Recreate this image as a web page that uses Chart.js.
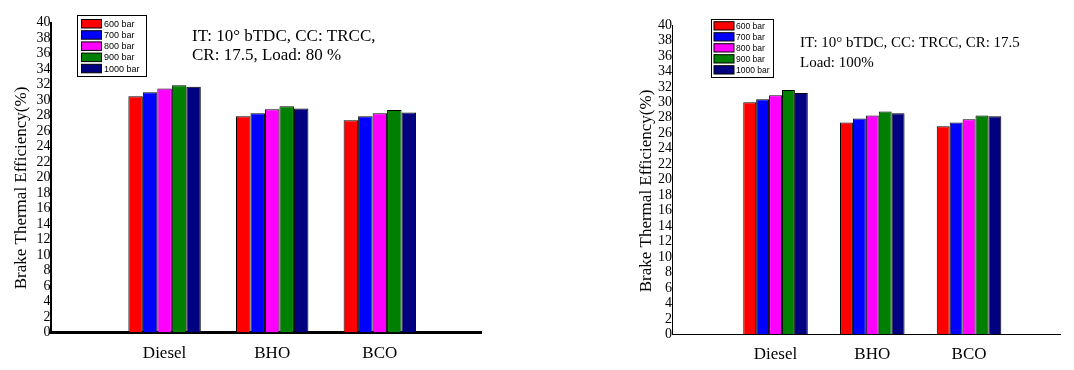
<!DOCTYPE html>
<html>
<head>
<meta charset="utf-8">
<script src="https://cdn.jsdelivr.net/npm/chart.js@4/dist/chart.umd.min.js"></script>
<style>
  html, body { margin: 0; padding: 0; background: #fff; }
  body { position: relative; width: 1074px; height: 370px; overflow: hidden; }
  canvas { position: absolute; top: 0; }
  #chart80 { left: 0; }
  #chart100 { left: 600px; }
</style>
</head>
<body>
<canvas id="chart80" width="560" height="370"></canvas>
<canvas id="chart100" width="474" height="370"></canvas>
<script>
// Categories and series
const fuels = ['Diesel', 'BHO', 'BCO'];
const pressures = ['600 bar', '700 bar', '800 bar', '900 bar', '1000 bar'];
const yTicks = [0, 2, 4, 6, 8, 10, 12, 14, 16, 18, 20, 22, 24, 26, 28, 30, 32, 34, 36, 38, 40];

// Load 80 %
const bte80_600 = [30.5, 27.9, 27.4];
const bte80_700 = [31.0, 28.3, 27.9];
const bte80_800 = [31.5, 28.8, 28.3];
const bte80_900 = [31.9, 29.2, 28.7];
const bte80_1000 = [31.7, 28.9, 28.4];

// Load 100 %
const bte100_600 = [30.0, 27.4, 26.9];
const bte100_700 = [30.4, 27.9, 27.4];
const bte100_800 = [30.9, 28.3, 27.8];
const bte100_900 = [31.6, 28.8, 28.3];
const bte100_1000 = [31.2, 28.6, 28.2];

const yTitle = 'Brake Thermal Efficiency(%)';
const note80 = ['IT: 10\u00B0 bTDC, CC: TRCC,', 'CR: 17.5, Load: 80 %'];
const note100 = ['IT: 10\u00B0 bTDC, CC: TRCC, CR: 17.5', 'Load: 100%'];

const barColors = ['#ff0000', '#0000ff', '#ff00ff', '#008000', '#000080'];
const serif = '"Liberation Serif", "Times New Roman", serif';

// legend drawn as a framed box inside the plot, like the original figure
const boxLegend = {
    id: 'boxLegend',
    afterDraw(chart, args, o) {
        const ctx = chart.ctx;
        ctx.save();
        ctx.lineWidth = 1;
        ctx.strokeStyle = '#000';
        ctx.fillStyle = '#fff';
        ctx.fillRect(o.x, o.y, o.w, o.h);
        ctx.strokeRect(o.x, o.y, o.w, o.h);
        ctx.font = o.font;
        ctx.textBaseline = 'middle';
        chart.data.datasets.forEach((ds, i) => {
            const top = o.y + o.first + i * o.row;
            ctx.fillStyle = ds.backgroundColor;
            ctx.fillRect(o.x + o.sx, top, o.sw, o.sh);
            ctx.strokeRect(o.x + o.sx, top, o.sw, o.sh);
            ctx.fillStyle = '#000';
            ctx.fillText(ds.label, o.x + o.tx, top + o.sh / 2 + 0.5);
        });
        ctx.restore();
    }
};

// condition text and the rotated y title
const noteText = {
    id: 'noteText',
    afterDraw(chart, args, o) {
        const ctx = chart.ctx;
        ctx.save();
        ctx.font = o.font;
        ctx.fillStyle = '#000';
        ctx.textBaseline = 'alphabetic';
        o.lines.forEach((line, i) => ctx.fillText(line, o.x, o.y + i * o.gap));
        ctx.translate(o.titleX, o.titleY);
        ctx.rotate(-Math.PI / 2);
        ctx.font = '17px ' + serif;
        ctx.textAlign = 'center';
        ctx.textBaseline = 'middle';
        ctx.fillText(yTitle, 0, 0);
        ctx.restore();
    }
};

function makeChart(id, series, cfg) {
    const ctx = document.getElementById(id).getContext('2d');
    return new Chart(ctx, {
        type: 'bar',
        data: {
            datasets: series.map((vals, i) => ({
                label: pressures[i],
                data: vals.map((v, j) => ({ x: j + 1, y: v })),
                backgroundColor: barColors[i],
                borderColor: '#000',
                borderWidth: 1,
                categoryPercentage: cfg.groupWidth,
                barPercentage: 1.0
            }))
        },
        options: {
            responsive: false,
            animation: false,
            layout: { padding: { left: 0, right: cfg.padRight, top: cfg.padTop, bottom: 0 } },
            scales: {
                x: {
                    type: 'linear',
                    offset: false,
                    min: cfg.xMin,
                    max: cfg.xMax,
                    afterBuildTicks: (scale) => { scale.ticks = fuels.map((f, i) => ({ value: i + 1 })); },
                    afterFit: (scale) => { scale.height = cfg.xHeight; },
                    grid: { display: false, drawTicks: false, offset: false },
                    border: { display: true, color: '#000', width: cfg.xBorder },
                    ticks: {
                        autoSkip: false,
                        maxRotation: 0,
                        padding: cfg.xPad,
                        color: '#000',
                        font: { family: serif, size: 17 },
                        callback: (v) => fuels[v - 1] || ''
                    }
                },
                y: {
                    min: 0,
                    max: 40,
                    afterBuildTicks: (scale) => { scale.ticks = yTicks.map(v => ({ value: v })); },
                    afterFit: (scale) => { scale.width = cfg.yWidth; },
                    grid: { display: false, drawTicks: false },
                    border: { display: true, color: '#000', width: cfg.yBorder },
                    ticks: {
                        autoSkip: false,
                        padding: 0,
                        color: '#000',
                        font: { family: serif, size: 14 }
                    }
                }
            },
            plugins: {
                legend: { display: false },
                tooltip: { enabled: false },
                boxLegend: cfg.legend,
                noteText: cfg.note
            }
        },
        plugins: [boxLegend, noteText]
    });
}

makeChart('chart80', [bte80_600, bte80_700, bte80_800, bte80_900, bte80_1000], {
    groupWidth: 0.673, xMin: -0.06, xMax: 3.94,
    padRight: 79, padTop: 22.5, xHeight: 37.5, yWidth: 50.5,
    xBorder: 3, yBorder: 2, xPad: 11,
    legend: { x: 77.5, y: 15.5, w: 69, h: 61, sx: 4, sw: 20, sh: 8.5, first: 4, row: 11.2, tx: 26.5,
              font: '9px "Liberation Sans", Arial, sans-serif' },
    note: { lines: note80, x: 192, y: 40.7, gap: 19.5, font: '17px ' + serif, titleX: 21.5, titleY: 188 }
});

makeChart('chart100', [bte100_600, bte100_700, bte100_800, bte100_900, bte100_1000], {
    groupWidth: 0.667, xMin: -0.07, xMax: 3.94,
    padRight: 14, padTop: 25, xHeight: 35.7, yWidth: 72,
    xBorder: 1, yBorder: 1, xPad: 10,
    legend: { x: 111.5, y: 19.5, w: 62, h: 58, sx: 2.5, sw: 20, sh: 8.3, first: 2.2, row: 11, tx: 24.5,
              font: '8.5px "Liberation Sans", Arial, sans-serif' },
    note: { lines: note100, x: 200, y: 46.7, gap: 20, font: '15px ' + serif, titleX: 46.7, titleY: 191 }
});
</script>
</body>
</html>
